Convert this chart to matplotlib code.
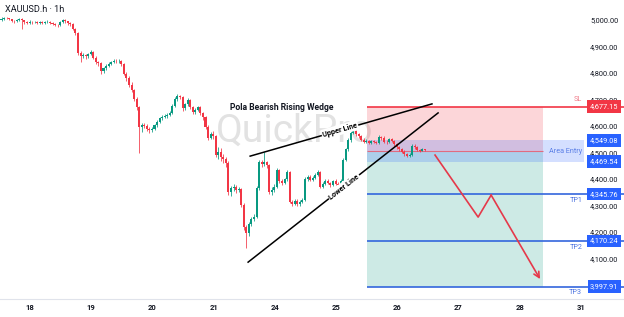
import matplotlib.pyplot as plt
import matplotlib.transforms as mtransforms
import numpy as np

plt.rcParams['font.family'] = ['Roboto', 'DejaVu Sans']

symbol = 'XAUUSD.h · 1h'
day_labels = ['18', '19', '20', '21', '24', '25', '26', '27', '28', '31']
price_ticks = [4100, 4200, 4300, 4400, 4500, 4600, 4700, 4800, 4900, 5000]

# hourly candles (open = previous close)
first_open = 5005
closes = [5008, 5012, 5010, 5006, 5000, 4998, 5004, 5008, 5002, 4996,
          4994, 4997, 4995, 4996, 4993, 4996, 4994, 4995, 4997, 4994,
          4990, 4986, 4984, 4996, 5004, 4998, 4991, 4988, 4970, 4955,
          4880, 4866, 4872, 4868, 4876, 4884, 4862, 4845, 4840, 4810,
          4822, 4830, 4838, 4845, 4850, 4848, 4850, 4836, 4800, 4785,
          4760, 4740, 4705, 4675, 4598, 4606, 4604, 4592, 4588, 4594,
          4608, 4620, 4632, 4638, 4640, 4645, 4653, 4680, 4705, 4717,
          4712, 4670, 4685, 4700, 4675, 4655, 4665, 4674, 4652, 4636,
          4600, 4560, 4572, 4565, 4495, 4505, 4485, 4478, 4464, 4355,
          4368, 4375, 4362, 4366, 4306, 4222, 4200, 4235, 4252, 4262,
          4370, 4468, 4462, 4466, 4455, 4355, 4362, 4375, 4438, 4395,
          4390, 4402, 4430, 4318, 4310, 4322, 4308, 4318, 4326, 4405,
          4412, 4400, 4408, 4420, 4430, 4375, 4385, 4398, 4390, 4382,
          4395, 4385, 4380, 4396, 4476, 4515, 4550, 4578, 4585, 4572,
          4565, 4552, 4545, 4548, 4540, 4548, 4545, 4540, 4562, 4560,
          4545, 4542, 4556, 4548, 4535, 4525, 4515, 4506, 4498, 4492,
          4495, 4530, 4526, 4512, 4510, 4515, 4513]
highs = [5013, 5016, 5015, 5012, 5008, 5004, 5008, 5012, 5010, 5005,
         5000, 5002, 5000, 5001, 4999, 5001, 4999, 5000, 5002, 4999,
         4997, 4993, 4990, 4999, 5008, 5007, 5001, 4995, 4992, 4975,
         4960, 4886, 4880, 4876, 4880, 4890, 4888, 4868, 4850, 4845,
         4828, 4836, 4844, 4850, 4856, 4855, 4856, 4854, 4840, 4806,
         4792, 4768, 4745, 4712, 4680, 4615, 4614, 4610, 4600, 4600,
         4612, 4626, 4638, 4645, 4648, 4652, 4660, 4686, 4712, 4724,
         4722, 4716, 4690, 4708, 4705, 4680, 4670, 4680, 4678, 4658,
         4642, 4606, 4580, 4585, 4570, 4525, 4520, 4498, 4485, 4470,
         4378, 4386, 4380, 4374, 4370, 4312, 4232, 4242, 4260, 4270,
         4376, 4475, 4475, 4506, 4470, 4460, 4372, 4385, 4445, 4442,
         4402, 4408, 4436, 4435, 4325, 4330, 4328, 4325, 4332, 4410,
         4420, 4418, 4414, 4426, 4436, 4434, 4392, 4404, 4402, 4394,
         4400, 4402, 4392, 4402, 4482, 4522, 4558, 4585, 4592, 4590,
         4578, 4570, 4558, 4554, 4552, 4552, 4552, 4548, 4568, 4566,
         4565, 4550, 4560, 4560, 4552, 4540, 4530, 4520, 4512, 4503,
         4502, 4536, 4534, 4530, 4518, 4520, 4518]
lows = [5001, 5004, 5006, 5002, 4995, 4993, 4996, 5000, 4970, 4990,
        4989, 4990, 4990, 4991, 4988, 4990, 4989, 4990, 4992, 4988,
        4985, 4981, 4978, 4982, 4993, 4994, 4986, 4982, 4965, 4948,
        4870, 4845, 4860, 4858, 4862, 4872, 4856, 4838, 4830, 4800,
        4804, 4816, 4825, 4832, 4840, 4842, 4842, 4830, 4795, 4775,
        4752, 4732, 4698, 4665, 4502, 4580, 4595, 4585, 4578, 4580,
        4588, 4600, 4615, 4626, 4632, 4634, 4640, 4648, 4674, 4698,
        4705, 4662, 4664, 4680, 4668, 4648, 4650, 4660, 4646, 4628,
        4592, 4552, 4555, 4555, 4485, 4480, 4470, 4465, 4450, 4345,
        4340, 4358, 4352, 4355, 4298, 4210, 4143, 4190, 4228, 4245,
        4255, 4362, 4450, 4452, 4445, 4348, 4345, 4355, 4370, 4388,
        4382, 4384, 4396, 4312, 4300, 4305, 4300, 4300, 4312, 4320,
        4398, 4395, 4395, 4402, 4415, 4368, 4370, 4380, 4384, 4374,
        4376, 4380, 4372, 4374, 4390, 4470, 4508, 4545, 4572, 4566,
        4560, 4548, 4538, 4540, 4535, 4536, 4540, 4534, 4536, 4552,
        4540, 4536, 4538, 4542, 4530, 4518, 4510, 4500, 4492, 4485,
        4486, 4490, 4518, 4508, 4505, 4508, 4509]

# trade setup levels
sl_price = 4677.15
entry_top = 4549.08
entry_bottom = 4469.54
tp_names = ['TP1', 'TP2', 'TP3']
tp_prices = [4345.76, 4170.24, 3997.91]

# drawings (bar index, price)
upper_x, upper_y = [97.5, 168.8], [4490, 4687]
lower_x, lower_y = [96.7, 171.2], [4090, 4653]
arrow_x = [170.0, 186.9, 192.0, 211.2]
arrow_y = [4494, 4260, 4343, 4026]

green = '#089981'
red = '#f23645'
blue = '#2962ff'

fig = plt.figure(figsize=(6.24, 3.17), dpi=100)
ax = fig.add_axes([0, 18 / 317, 1, 299 / 317])
x_max = 244.1
ax.set_xlim(-0.59, x_max)
ax.set_ylim(3951, 5079)

opens = np.array([first_open] + closes[:-1])
c = np.array(closes)
idx = np.arange(len(c))
cols = np.where(c >= opens, green, red)
ax.vlines(idx, lows, highs, colors=cols, lw=0.7, alpha=0.8, zorder=3)
body = np.maximum(np.abs(c - opens), 1.5)
ax.bar(idx, body, bottom=np.minimum(opens, c), width=0.8, color=cols,
       linewidth=0, zorder=4)

# watermark
ax.text(115, 4585, 'QuickPro', fontsize=28, color='#e2e2e2',
        ha='center', va='center', zorder=1)

# position boxes
box_start, box_end, band_end = 143.3, 212.3, 228.4
entry_mid = (entry_top + entry_bottom) / 2
ax.fill_between([box_start, box_end], entry_mid, sl_price, color=red,
                alpha=0.2, lw=0, zorder=2)
ax.fill_between([box_start, box_end], tp_prices[-1], entry_mid, color=green,
                alpha=0.2, lw=0, zorder=2)
ax.fill_between([box_start, band_end], entry_bottom, entry_top, color=blue,
                alpha=0.2, lw=0, zorder=2)
ax.hlines(entry_mid, box_start, box_end, color='#e06b80', lw=0.8, zorder=2)

ax.hlines(sl_price, box_start, x_max, color=red, lw=1.2, zorder=5)
for p in tp_prices:
    ax.hlines(p, box_start, x_max, color='#3366dd', lw=1.2, zorder=5)

# wedge lines
ax.plot(upper_x, upper_y, color='black', lw=1.1, zorder=6)
ax.plot(lower_x, lower_y, color='black', lw=1.1, zorder=6)
ax.text(132.7, 4589, 'Upper Line', fontsize=5.3, fontweight='bold',
        rotation=16, rotation_mode='anchor', ha='center', va='center',
        bbox=dict(boxstyle='square,pad=0.15', fc='white', ec='none'), zorder=7)
ax.text(134.3, 4374, 'Lower Line', fontsize=5.3, fontweight='bold',
        rotation=38, rotation_mode='anchor', ha='center', va='center',
        bbox=dict(boxstyle='square,pad=0.15', fc='white', ec='none'), zorder=7)
ax.text(110, 4675, 'Pola Bearish Rising Wedge', fontsize=6.2, fontweight='bold',
        ha='center', va='center', color='#131722', zorder=7)

# projected path
ax.plot(arrow_x[:-1], arrow_y[:-1], color='#e5394a', lw=1.2, zorder=6)
ax.annotate('', xy=(arrow_x[-1], arrow_y[-1]), xytext=(arrow_x[-2], arrow_y[-2]),
            arrowprops=dict(arrowstyle='->', color='#e5394a', lw=1.2,
                            mutation_scale=10, shrinkA=0, shrinkB=0), zorder=6)

# price scale
trans = mtransforms.blended_transform_factory(ax.transAxes, ax.transData)
for p in price_ticks:
    ax.text(0.991, p, f'{p:,.2f}', transform=trans, ha='right', va='center',
            fontsize=5.3, color='#131722', zorder=8)


def tag(price, color):
    ax.text(0.991, price, f'{price:,.2f}', transform=trans, ha='right',
            va='center', fontsize=5.3, color='white', zorder=9,
            bbox=dict(boxstyle='square,pad=0.35', fc=color, ec='none'))


tag(sl_price, red)
tag(entry_top, blue)
tag(entry_bottom, blue)
for p in tp_prices:
    tag(p, blue)

ax.text(0.933, sl_price + 26, 'SL', transform=trans, ha='right', va='center',
        fontsize=5.2, color='#f07a88', zorder=8)
ax.text(0.933, entry_mid, 'Area Entry', transform=trans, ha='right',
        va='center', fontsize=5.2, color='#5b7fe6', zorder=8)
for name, p in zip(tp_names, tp_prices):
    ax.text(0.933, p - 24, name, transform=trans, ha='right', va='center',
            fontsize=5.2, color='#4a72e0', zorder=8)

ax.text(0.008, 0.967, symbol, transform=ax.transAxes, ha='left', va='center',
        fontsize=6.6, color='#131722')

ax.set_xticks(11.2 + 24 * np.arange(len(day_labels)), day_labels)
ax.set_yticks([])
ax.tick_params(axis='x', length=0, pad=3.5, labelsize=5.5, colors='#131722')
for lbl in ax.get_xticklabels():
    lbl.set_fontweight('bold')
for s in ['top', 'left', 'right']:
    ax.spines[s].set_visible(False)
ax.spines['bottom'].set_color('#e0e3eb')
ax.spines['bottom'].set_linewidth(0.8)

fig.savefig('out.png', dpi=100)
